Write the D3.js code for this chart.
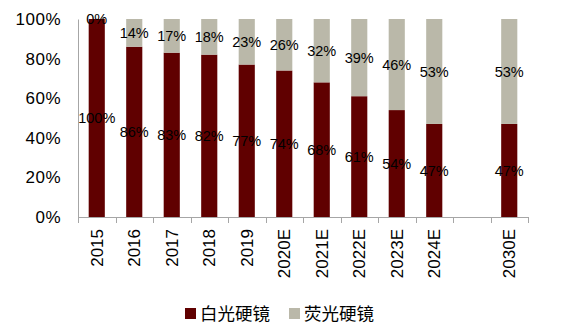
<!DOCTYPE html>
<html>
<head>
<meta charset="utf-8">
<script src="https://cdn.jsdelivr.net/npm/d3@7"></script>
<style>
  html, body { margin: 0; padding: 0; background: #fff; }
  svg { display: block; font-family: "Liberation Sans", Arial, sans-serif; }
</style>
</head>
<body>
<svg id="chart" width="580" height="332"></svg>
<script>
// Market share of white-light vs. fluorescence rigid endoscopes
const categories = ["2015", "2016", "2017", "2018", "2019", "2020E", "2021E", "2022E", "2023E", "2024E", "", "2030E"];
const whiteLight = [100, 86, 83, 82, 77, 74, 68, 61, 54, 47, null, 47];
const fluorescence = [0, 14, 17, 18, 23, 26, 32, 39, 46, 53, null, 53];
const seriesNames = ["白光硬镜", "荧光硬镜"];
const yTicks = [0, 20, 40, 60, 80, 100];

const colors = ["#600000", "#bab8a9"];
const axisColor = "#a6a6a6";

const svg = d3.select("#chart");
const plotLeft = 78, plotRight = 528, plotTop = 19, plotBottom = 217;

const x = d3.scaleBand().domain(d3.range(categories.length)).range([plotLeft, plotRight]).padding(0);
const y = d3.scaleLinear().domain([0, 100]).range([plotBottom, plotTop]);
const barW = x.bandwidth() * 0.43;

// stacked segments
const stacks = categories.map((c, i) => {
  if (whiteLight[i] == null) return null;
  return [
    { s: 0, y0: 0, y1: whiteLight[i], v: whiteLight[i] },
    { s: 1, y0: whiteLight[i], y1: whiteLight[i] + fluorescence[i], v: fluorescence[i] }
  ].map(d => Object.assign(d, { i }));
}).filter(Boolean).flat();

svg.append("g").selectAll("rect")
  .data(stacks)
  .join("rect")
  .attr("x", d => x(d.i) + (x.bandwidth() - barW) / 2)
  .attr("width", barW)
  .attr("y", d => y(d.y1))
  .attr("height", d => y(d.y0) - y(d.y1))
  .attr("fill", d => colors[d.s]);

// y axis
const yAxis = svg.append("g")
  .attr("transform", `translate(${plotLeft},0)`)
  .call(d3.axisLeft(y).tickValues(yTicks).tickFormat(d => d + "%").tickSizeInner(0).tickSizeOuter(0).tickPadding(17));
yAxis.select(".domain").attr("stroke", axisColor);
yAxis.selectAll("text").attr("font-size", 17).attr("fill", "#000")
  .attr("font-family", "Liberation Sans, Arial, sans-serif").attr("letter-spacing", 0.5);

// x axis baseline and tick marks at band edges
const xg = svg.append("g");
xg.append("line").attr("x1", plotLeft).attr("x2", plotRight).attr("y1", plotBottom + 0.5).attr("y2", plotBottom + 0.5)
  .attr("stroke", axisColor);
const edges = d3.range(categories.length).map(i => x(i)).concat([plotRight]);
xg.selectAll("line.tick").data(edges).join("line").attr("class", "tick")
  .attr("x1", d => Math.round(d) + 0.5).attr("x2", d => Math.round(d) + 0.5)
  .attr("y1", plotBottom).attr("y2", plotBottom + 6).attr("stroke", axisColor);
xg.selectAll("text").data(categories.map((c, i) => ({ c, i })).filter(d => d.c))
  .join("text")
  .attr("transform", d => `translate(${x(d.i) + x.bandwidth() / 2},229) rotate(-90)`)
  .attr("text-anchor", "end")
  .attr("dy", "0.35em")
  .attr("font-size", 17)
  .attr("fill", "#000")
  .text(d => d.c);

// value labels at segment middles
svg.append("g").selectAll("text")
  .data(stacks)
  .join("text")
  .attr("x", d => x(d.i) + x.bandwidth() / 2)
  .attr("y", d => y((d.y0 + d.y1) / 2))
  .attr("text-anchor", "middle")
  .attr("dy", "0.35em")
  .attr("font-size", 14.5)
  .attr("fill", "#000")
  .text(d => d.v + "%");

// legend
const legend = svg.append("g");
const legendX = [185, 289];
seriesNames.forEach((name, k) => {
  legend.append("rect").attr("x", legendX[k]).attr("y", 308).attr("width", 11).attr("height", 11)
    .attr("fill", colors[k]);
  legend.append("text").attr("x", legendX[k] + 15).attr("y", 314).attr("dy", "0.36em")
    .attr("font-size", 17.5).attr("fill", "#000")
    .attr("font-family", "Noto Sans CJK SC, sans-serif")
    .text(name);
});
</script>
</body>
</html>
